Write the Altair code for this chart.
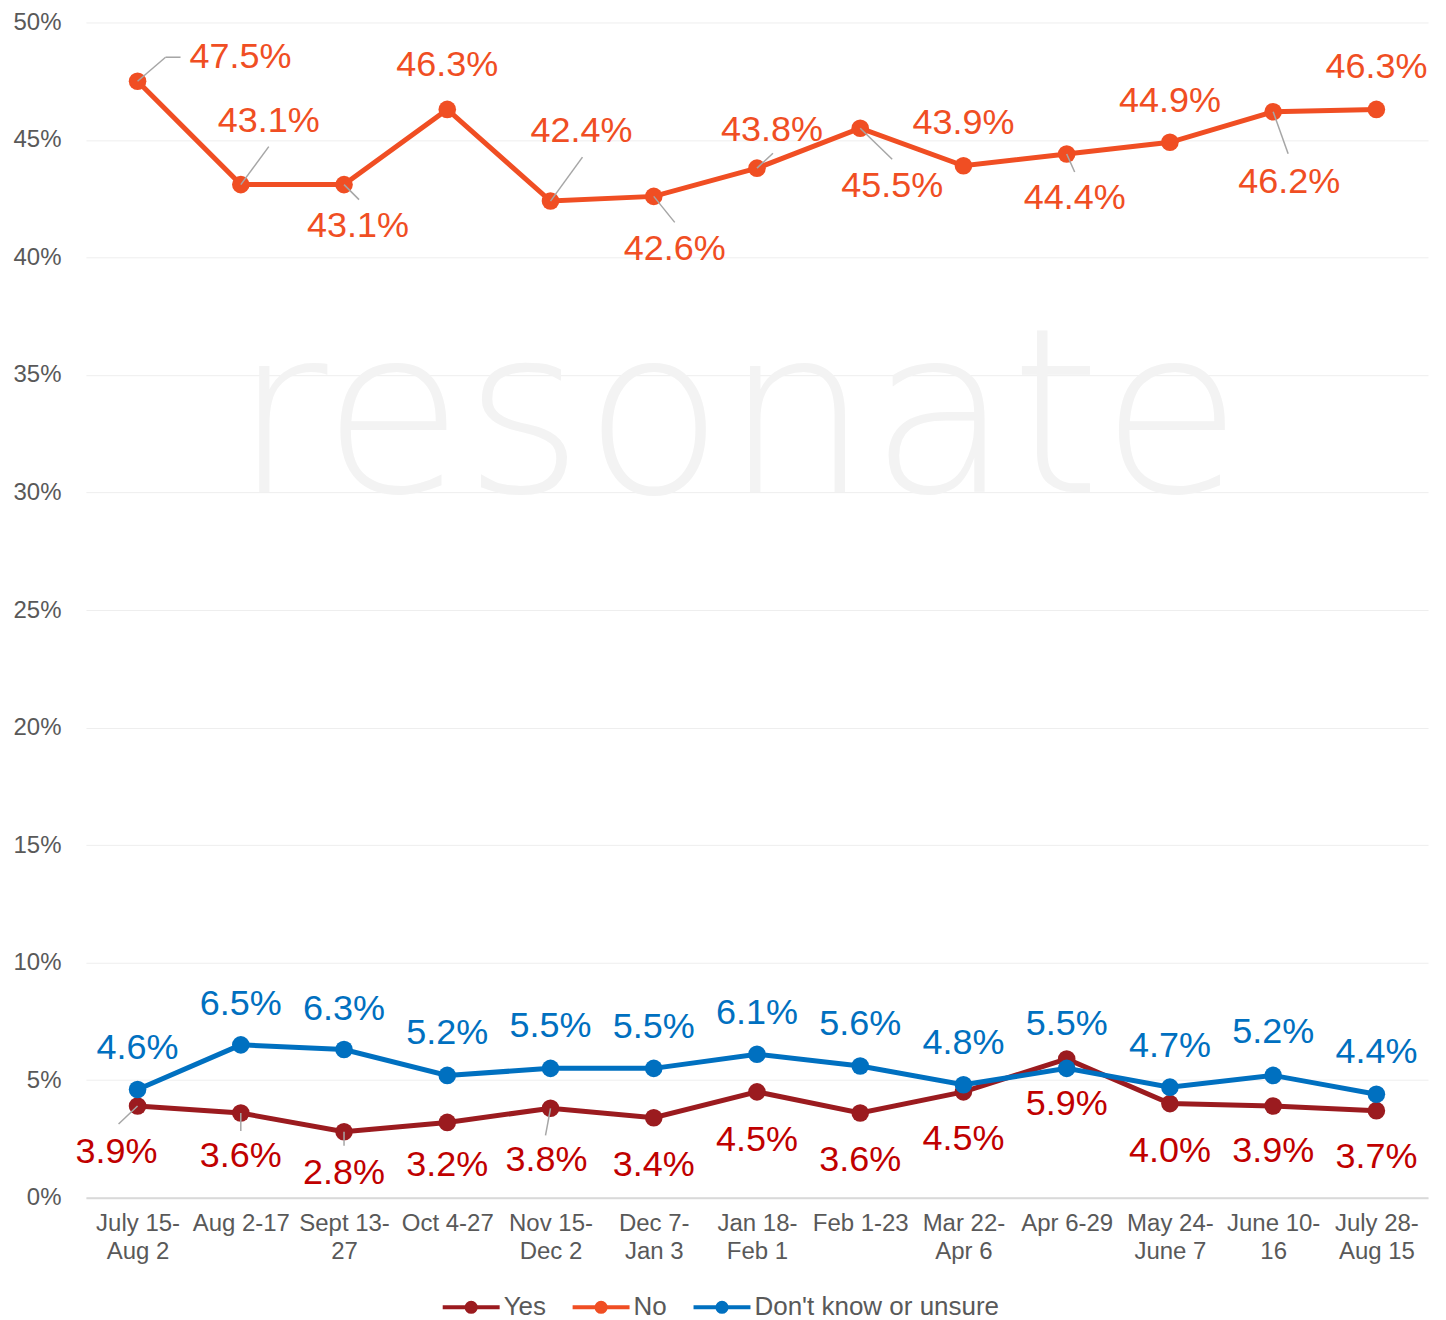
import json
import altair as alt
import pandas as pd

# ---------------- data ----------------
categories = ["July 15-|Aug 2", "Aug 2-17", "Sept 13-|27", "Oct 4-27", "Nov 15-|Dec 2",
              "Dec 7-|Jan 3", "Jan 18-|Feb 1", "Feb 1-23", "Mar 22-|Apr 6", "Apr 6-29",
              "May 24-|June 7", "June 10-|16", "July 28-|Aug 15"]
series_names = ["Yes", "No", "Don't know or unsure"]
yes_values = [3.9, 3.6, 2.8, 3.2, 3.8, 3.4, 4.5, 3.6, 4.5, 5.9, 4.0, 3.9, 3.7]
no_values = [47.5, 43.1, 43.1, 46.3, 42.4, 42.6, 43.8, 45.5, 43.9, 44.4, 44.9, 46.2, 46.3]
dk_values = [4.6, 6.5, 6.3, 5.2, 5.5, 5.5, 6.1, 5.6, 4.8, 5.5, 4.7, 5.2, 4.4]
y_ticks = [0, 5, 10, 15, 20, 25, 30, 35, 40, 45, 50]

# ---------------- layout (pixel offsets of labels / leader lines) ----------------
W, H = 1343, 1176
XU = W / 13.0      # px per category
YU = H / 50.0      # px per percentage point

label_offsets = {
    "No": [(103, -24), (28, -64), (14, 41), (0, -44), (31, -70), (21, 53), (15, -38),
           (32, 58), (0, -43), (8, 44), (0, -41), (16, 70), (0, -42)],
    "Yes": [(-21, 46), (0, 43), (0, 41), (0, 43), (-4, 52), (0, 47), (0, 48),
            (0, 47), (0, 47), (0, 45), (0, 47), (0, 45), (0, 46)],
    "Don't know or unsure": [(0, -42), (0, -41), (0, -41), (0, -42), (0, -42), (0, -41), (0, -41),
                             (0, -42), (0, -42), (0, -44), (0, -41), (0, -43), (0, -42)],
}
# (series, point index, start dx, start dy, end dx, end dy)
leaders = [
    ("No", 0, 0, 0, 28, -24), ("No", 0, 28, -24, 43, -24),
    ("No", 1, 0, 0, 28, -38), ("No", 2, 0, 0, 15, 15),
    ("No", 4, 0, 0, 32, -44), ("No", 5, 0, 0, 21, 26),
    ("No", 6, 0, 0, 16, -15), ("No", 7, 0, 0, 32, 31),
    ("No", 9, 0, 0, 8, 18), ("No", 11, 0, 0, 15, 42),
    ("Yes", 0, 0, 0, -19, 18), ("Yes", 1, 0, 0, 0, 18),
    ("Yes", 2, 0, 0, 0, 14), ("Yes", 4, 0, 0, -5, 27),
]

line_colors = ["#9B1B1F", "#F04E23", "#0070C0"]
label_colors = {"Yes": "#C00000", "No": "#F04E23", "Don't know or unsure": "#0070C0"}

FONT = "Liberation Sans"
GRAY = "#595959"

values_by_series = {"Yes": yes_values, "No": no_values, "Don't know or unsure": dk_values}

rows, lab_rows = [], []
for s in series_names:
    for i, v in enumerate(values_by_series[s]):
        rows.append({"idx": i, "value": v, "series": s})
        dx, dy = label_offsets[s][i]
        lab_rows.append({"series": s, "lx": i + dx / XU, "ly": v - dy / YU,
                         "text": f"{v:.1f}%"})
df = pd.DataFrame(rows)
lab_df = pd.DataFrame(lab_rows)

lead_rows = []
for s, i, x1, y1, x2, y2 in leaders:
    v = values_by_series[s][i]
    lead_rows.append({"x": i + x1 / XU, "x2": i + x2 / XU,
                      "y": v - y1 / YU, "y2": v - y2 / YU})
lead_df = pd.DataFrame(lead_rows)

label_expr = "split(" + json.dumps(categories) + "[datum.value], '|')"

x_scale = alt.Scale(domain=[-0.5, 12.5], nice=False, zero=False)
y_scale = alt.Scale(domain=[0, 50], nice=False, zero=True)

x_axis = alt.Axis(values=list(range(13)), labelExpr=label_expr, grid=False, ticks=False,
                  domainColor="#d9d9d9", domainWidth=2, labelFontSize=24, labelColor=GRAY,
                  labelFont=FONT, labelPadding=14, labelLineHeight=28, title=None,
                  labelFlush=False, labelOverlap=False)
y_axis = alt.Axis(values=y_ticks, labelExpr="datum.value + '%'", grid=True, gridColor="#eeeeee",
                  gridWidth=1, domain=False, ticks=False, labelFontSize=24, labelColor=GRAY,
                  labelFont=FONT, labelPadding=25, title=None)

# legend symbol: a line with a filled dot, drawn wider than its layout box
legend_symbol = ("M-2,0L2,0"
                 "M0.32,0A0.32,0.32 0 1,1 -0.32,0A0.32,0.32 0 1,1 0.32,0"
                 "M0.16,0A0.16,0.16 0 1,1 -0.16,0A0.16,0.16 0 1,1 0.16,0")

color_scale = alt.Scale(domain=series_names, range=line_colors)
legend = alt.Legend(title=None, orient="none", legendX=369, legendY=1269, direction="horizontal",
                    symbolType=legend_symbol, symbolSize=812, symbolStrokeWidth=4,
                    labelFontSize=26, labelColor=GRAY, labelFont=FONT, labelOffset=16,
                    labelLimit=0, columnPadding=18)

base = alt.Chart(df)

watermark = alt.Chart(pd.DataFrame({"t": ["resonate"]})).mark_text(
    font="DejaVu Sans", fontSize=230, fontWeight=200, color="#f3f3f3",
    align="center", baseline="alphabetic"
).encode(x=alt.value(652), y=alt.value(470), text="t:N")

layers = [watermark]
first = True
for s in ["No", "Yes", "Don't know or unsure"]:
    sub = base.transform_filter(alt.datum.series == s)
    line = sub.mark_line(strokeWidth=5).encode(
        x=alt.X("idx:Q", scale=x_scale, axis=x_axis),
        y=alt.Y("value:Q", scale=y_scale, axis=y_axis),
        color=alt.Color("series:N", scale=color_scale, legend=legend if first else None),
        order="idx:Q",
    )
    first = False
    pts = sub.mark_circle(size=310, opacity=1).encode(
        x="idx:Q", y="value:Q",
        color=alt.Color("series:N", scale=color_scale, legend=None),
    )
    layers += [line, pts]

leader_layer = alt.Chart(lead_df).mark_rule(color="#a6a6a6", strokeWidth=1.5).encode(
    x="x:Q", x2="x2:Q", y="y:Q", y2="y2:Q")
layers.append(leader_layer)

for s in series_names:
    lab = alt.Chart(lab_df).transform_filter(alt.datum.series == s).mark_text(
        fontSize=36, font=FONT, color=label_colors[s], align="center", baseline="middle"
    ).encode(x="lx:Q", y="ly:Q", text="text:N")
    layers.append(lab)

chart = alt.layer(*layers).properties(
    width=W, height=H,
    autosize=alt.AutoSizeParams(type="none"),
    padding={"left": 78, "top": 14, "right": 10, "bottom": 122},
    background="white",
).configure_view(stroke=None)

chart.save("out.html", embed_options={"renderer": "svg", "actions": False})
